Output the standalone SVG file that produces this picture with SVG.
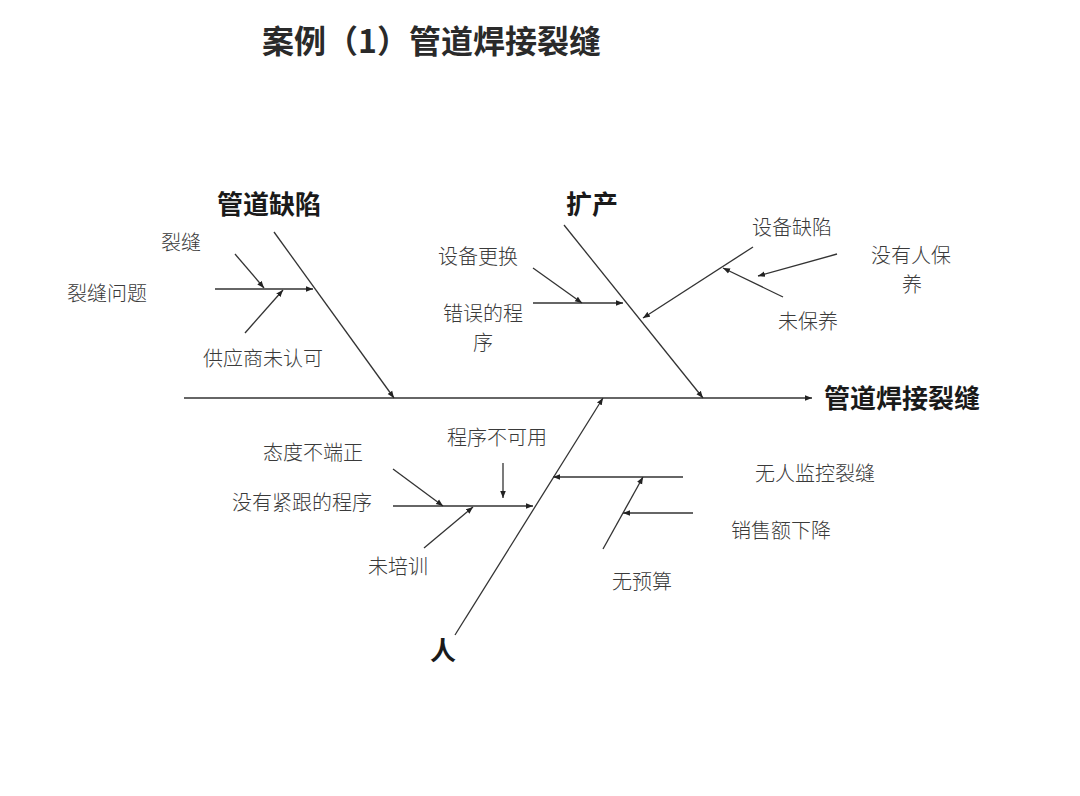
<svg xmlns="http://www.w3.org/2000/svg" width="1080" height="796" viewBox="0 0 1080 796">
<style>
.t{font-family:"Noto Sans CJK SC","Liberation Sans",sans-serif;font-size:20px;fill:#3a3a3a;font-weight:300}
.b{font-family:"Noto Sans CJK SC","Liberation Sans",sans-serif;font-size:26px;fill:#1a1a1a;font-weight:bold}
.h{font-family:"Noto Sans CJK SC","Liberation Sans",sans-serif;font-size:32px;fill:#2a2a2a;font-weight:bold}
.l{stroke:#333;stroke-width:1.3;fill:none;marker-end:url(#a)}
</style>
<defs>
<marker id="a" viewBox="0 0 10 10" refX="10" refY="5" markerWidth="7" markerHeight="7" markerUnits="userSpaceOnUse" orient="auto">
<path d="M0,1 L10,5 L0,9 z" fill="#222"/>
</marker>
</defs>
<rect width="1080" height="796" fill="#fff"/>
<text class="h" x="262" y="53">案例（1）管道焊接裂缝</text>
<g id="connectors">
<line class="l" x1="184" y1="398" x2="812" y2="398"/>
<line class="l" x1="274" y1="232" x2="394" y2="398"/>
<line class="l" x1="215" y1="289" x2="313" y2="289"/>
<line class="l" x1="235" y1="254" x2="264" y2="288"/>
<line class="l" x1="245" y1="333" x2="283" y2="290"/>
<line class="l" x1="564" y1="225" x2="703" y2="398"/>
<line class="l" x1="533" y1="303" x2="623" y2="303"/>
<line class="l" x1="533" y1="268" x2="582" y2="303"/>
<line class="l" x1="753" y1="247" x2="643" y2="318"/>
<line class="l" x1="783" y1="297" x2="723" y2="268"/>
<line class="l" x1="837" y1="254" x2="758" y2="276"/>
<line class="l" x1="455" y1="635" x2="603" y2="398"/>
<line class="l" x1="393" y1="506" x2="533" y2="506"/>
<line class="l" x1="393" y1="469" x2="443" y2="506"/>
<line class="l" x1="424" y1="548" x2="473" y2="507"/>
<line class="l" x1="503" y1="463" x2="503" y2="498"/>
<line class="l" x1="683" y1="477" x2="553" y2="477"/>
<line class="l" x1="603" y1="549" x2="643" y2="477"/>
<line class="l" x1="693" y1="513" x2="623" y2="513"/>
</g>
<g id="head"><text class="b" x="824" y="408">管道焊接裂缝</text></g>
<g id="bone-defect"><text class="b" x="217" y="214">管道缺陷</text></g>
<g id="bone-expand"><text class="b" x="566" y="214">扩产</text></g>
<g id="bone-people"><text class="b" x="430" y="660">人</text></g>
<g id="n1"><text class="t" x="161" y="250">裂缝</text></g>
<g id="n2"><text class="t" x="67" y="301">裂缝问题</text></g>
<g id="n3"><text class="t" x="203" y="366">供应商未认可</text></g>
<g id="n4"><text class="t" x="438" y="264">设备更换</text></g>
<g id="n5"><text class="t" x="443" y="321">错误的程<tspan x="473" y="350">序</tspan></text></g>
<g id="n6"><text class="t" x="752" y="235">设备缺陷</text></g>
<g id="n7"><text class="t" x="871" y="263">没有人保<tspan x="902" y="292">养</tspan></text></g>
<g id="n8"><text class="t" x="778" y="329">未保养</text></g>
<g id="n9"><text class="t" x="447" y="445">程序不可用</text></g>
<g id="n10"><text class="t" x="263" y="460">态度不端正</text></g>
<g id="n11"><text class="t" x="232" y="510">没有紧跟的程序</text></g>
<g id="n12"><text class="t" x="368" y="574">未培训</text></g>
<g id="n13"><text class="t" x="755" y="481">无人监控裂缝</text></g>
<g id="n14"><text class="t" x="731" y="538">销售额下降</text></g>
<g id="n15"><text class="t" x="612" y="589">无预算</text></g>
</svg>
